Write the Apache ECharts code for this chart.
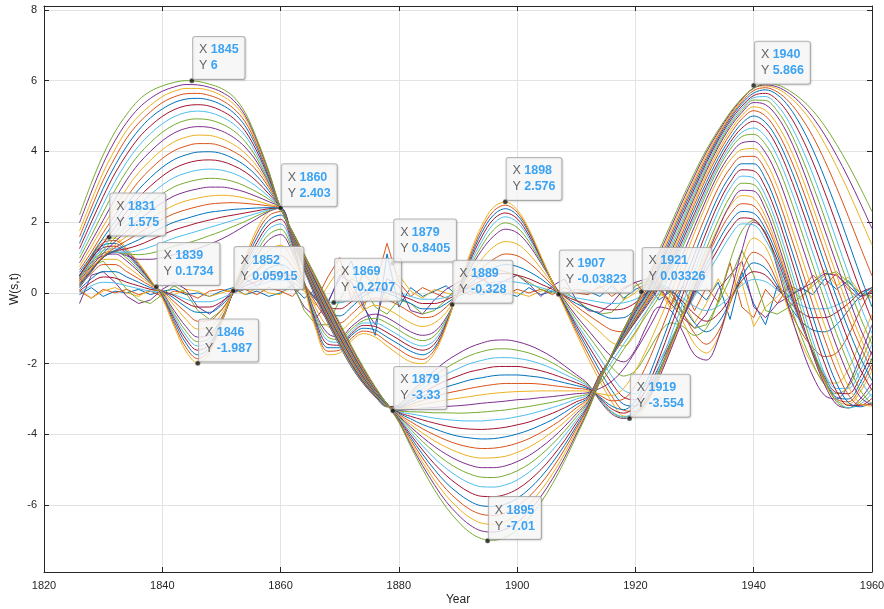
<!DOCTYPE html>
<html>
<head>
<meta charset="utf-8">
<title>W(s,t)</title>
<script src="https://cdn.jsdelivr.net/npm/echarts@6/dist/echarts.min.js"></script>
<style>
  html, body { margin: 0; padding: 0; background: #fff; }
  #chart { width: 884px; height: 609px; }
</style>
</head>
<body>
<div id="chart"></div>
<script>
// sampling years (every 2 years)
var years = [1826,1828,1830,1832,1834,1836,1838,1840,1842,1844,1846,1848,1850,1852,1854,1856,1858,1860,
  1862,1864,1866,1868,1870,1872,1874,1876,1878,1880,
  1882,1884,1886,1888,1890,1892,1894,1896,1898,1900,1902,1904,1906,1908,1910,1912,
  1914,1916,1918,1920,1922,1924,1926,1928,1930,1932,1934,1936,1938,1940,1942,1944,1946,1948,1950,1952,1954,1956,1958,1960];

// small scales
var s1 = [-0.05, 0.15, -0.1, 0.05, 0.0, 0.1, -0.05, 0.05, 0.1, -0.05, 0.0, -0.1, 0.05, 0.15, -0.05, 0.05, -0.1, 0.0,
  0.2, -0.15, 0.1, -0.25, 0.4, 0.9, -0.3, -1.2, 1.1, -0.4,
  0.15, -0.1, 0.05, 0.2, -0.1, 0.05, -0.05, 0.1, 0.0, -0.1, 0.15, -0.05, 0.05, 0.0, 0.1, 0.05,
  -0.1, 0.2, -0.15, 0.1, 0.25, -0.2, 0.05, -0.6, 0.1, -0.2, 0.3, -0.75, 0.6, -0.3, -0.9, 0.2, -0.1, 0.15, -0.05, 0.4, 0.1, 0.35, -0.1, 0.05];
var s2 = [0.05, -0.15, 0.1, 0.0, 0.1, -0.05, 0.05, -0.1, 0.05, 0.0, -0.15, 0.05, 0.1, 0.0, 0.1, -0.05, 0.15, 0.05,
  -0.1, 0.25, -0.2, 0.45, 1.0, -0.2, 0.55, 0.2, 1.4, 0.3,
  -0.1, 0.15, 0.0, -0.15, 0.1, -0.05, 0.1, 0.05, -0.05, 0.1, 0.0, 0.1, -0.05, 0.15, 0.0, -0.05,
  0.2, -0.1, 0.15, 0.3, -0.1, 0.15, -0.35, 0.2, -0.5, 0.15, -0.25, 0.85, -0.4, -0.7, 0.1, -0.3, 0.2, 0.05, 0.5, 0.2, 0.55, 0.1, -0.2, 0.1];
var s3 = [0.1, -0.15, 0.05, 0.15, 0.0, -0.1, 0.1, 0.0, -0.05, 0.1, 0.05, -0.1, 0.0, 0.1, -0.05, 0.15, 0.0, -0.05,
  0.3, 0.05, -0.35, 0.2, 0.7, 0.1, -0.5, 0.6, -0.2, 0.5,
  0.05, -0.15, 0.1, 0.0, -0.1, 0.15, 0.05, -0.05, 0.1, 0.0, -0.1, 0.05, 0.15, -0.05, 0.1, 0.0,
  0.15, 0.3, -0.2, 0.0, 0.35, 0.1, -0.45, -0.2, -0.85, -0.3, 0.4, -0.2, 0.3, -0.95, -0.4, -0.1, 0.25, -0.2, 0.3, 0.65, 0.2, 0.45, 0.0, -0.15];
var s4 = [-0.3, 0.5, 0.6, 0.3, -0.1, -0.3, -0.2, 0.1, 0.3, 0.1, -0.4, -0.6, -0.3, 0.1, 0.4, 0.2, 0.5, 0.6,
  0.2, -0.4, -0.7, -0.3, 0.5, 0.3, -0.4, -0.9, 0.4, 0.2,
  -0.5, -0.6, -0.2, 0.1, 0.3, 0.5, 0.4, 0.2, 0.35, 0.5, 0.25, -0.1, 0.2, 0.4, -0.2, -0.5,
  -0.55, -0.3, 0.1, 0.3, 0.4, 0.2, -0.3, -0.7, -1.0, -0.6, 0.1, 0.5, 0.9, -0.4, -0.7, -0.3, -0.1, 0.1, 0.3, 0.55, 0.5, 0.2, -0.1, 0.0];
var s5 = [0.5, 0.75, 0.9, 0.5, 0.1, -0.2, -0.3, -0.05, 0.2, 0.0, -0.5, -0.75, -0.5, 0.0, 0.4, 0.6, 0.9, 0.8,
  0.3, -0.5, -0.9, -0.9, -0.2, 0.4, 0.2, -0.4, -0.6, -0.2,
  -0.3, -0.6, -0.5, -0.2, 0.2, 0.5, 0.65, 0.7, 0.6, 0.5, 0.3, 0.1, 0.0, 0.05, -0.2, -0.45,
  -0.6, -0.55, -0.2, 0.2, 0.35, 0.3, -0.1, -0.6, -1.0, -0.9, -0.3, 0.4, 1.2, 0.5, -0.5, -0.6, -0.4, -0.1, 0.2, 0.5, 0.6, 0.3, 0.0, -0.1];

// medium scales
var m1 = [0.0, 0.2, 0.3, 0.28, 0.2, 0.12, 0.05, 0.02, -0.05, -0.18, -0.25, -0.25, -0.15, 0.0, 0.12, 0.2, 0.32, 0.35,
  0.3, 0.1, -0.1, -0.25, -0.28, -0.15, 0.02, 0.1, 0.06, -0.02,
  -0.1, -0.18, -0.18, -0.12, 0.0, 0.12, 0.22, 0.3, 0.33, 0.3, 0.24, 0.15, 0.05, -0.05, -0.14, -0.2,
  -0.26, -0.3, -0.28, -0.18, 0.0, 0.1, 0.03, -0.15, -0.38, -0.5, -0.38, -0.1, 0.22, 0.38, 0.32, 0.08, -0.15, -0.35, -0.45, -0.45, -0.35, -0.18, 0.0, 0.1];
var m2 = [0.05, 0.3, 0.45, 0.42, 0.3, 0.2, 0.1, 0.05, -0.08, -0.28, -0.4, -0.4, -0.25, 0.0, 0.2, 0.32, 0.5, 0.55,
  0.45, 0.15, -0.15, -0.4, -0.45, -0.25, 0.0, 0.12, 0.08, -0.05,
  -0.18, -0.3, -0.3, -0.2, -0.02, 0.18, 0.35, 0.5, 0.55, 0.5, 0.4, 0.25, 0.1, -0.08, -0.22, -0.32,
  -0.42, -0.48, -0.45, -0.28, 0.0, 0.15, 0.05, -0.25, -0.6, -0.8, -0.6, -0.15, 0.35, 0.6, 0.5, 0.12, -0.25, -0.55, -0.7, -0.7, -0.55, -0.3, 0.0, 0.15];
var m3 = [0.1, 0.4, 0.6, 0.6, 0.45, 0.3, 0.15, 0.05, -0.15, -0.4, -0.55, -0.55, -0.35, 0.0, 0.28, 0.45, 0.7, 0.8,
  0.6, 0.2, -0.2, -0.55, -0.65, -0.4, -0.1, 0.05, 0.0, -0.15,
  -0.3, -0.45, -0.45, -0.3, -0.05, 0.25, 0.5, 0.7, 0.8, 0.75, 0.6, 0.4, 0.15, -0.1, -0.3, -0.45,
  -0.6, -0.72, -0.7, -0.45, -0.05, 0.2, 0.1, -0.35, -0.85, -1.1, -0.85, -0.25, 0.45, 0.85, 0.7, 0.2, -0.35, -0.8, -1.05, -1.1, -0.9, -0.5, -0.1, 0.15];
var m4 = [0.2, 0.55, 0.8, 0.8, 0.6, 0.4, 0.2, 0.05, -0.25, -0.55, -0.8, -0.78, -0.48, -0.02, 0.38, 0.65, 0.95, 1.05,
  0.75, 0.25, -0.3, -0.75, -0.85, -0.6, -0.3, -0.15, -0.2, -0.35,
  -0.55, -0.7, -0.65, -0.4, -0.05, 0.35, 0.7, 0.95, 1.1, 1.05, 0.85, 0.55, 0.2, -0.1, -0.38, -0.62,
  -0.85, -1.05, -1.1, -0.75, -0.2, 0.15, 0.0, -0.55, -1.15, -1.45, -1.1, -0.3, 0.6, 1.15, 0.95, 0.3, -0.45, -1.1, -1.55, -1.8, -1.7, -1.2, -0.5, 0.1];
var m5 = [0.3, 0.7, 0.95, 0.95, 0.75, 0.5, 0.25, 0.02, -0.35, -0.75, -1.02, -0.98, -0.6, 0.0, 0.48, 0.85, 1.2, 1.35,
  0.95, 0.3, -0.45, -0.95, -1.05, -0.8, -0.5, -0.35, -0.45, -0.65,
  -0.85, -0.95, -0.85, -0.55, -0.05, 0.5, 0.95, 1.3, 1.45, 1.38, 1.1, 0.7, 0.25, -0.15, -0.5, -0.8,
  -1.1, -1.4, -1.5, -1.15, -0.5, -0.05, -0.2, -0.8, -1.45, -1.7, -1.25, -0.25, 0.9, 1.55, 1.3, 0.45, -0.55, -1.4, -2.05, -2.5, -2.55, -2.15, -1.4, -0.6];
var m6 = [0.4, 0.85, 1.05, 1.1, 0.9, 0.6, 0.28, 0.0, -0.5, -0.95, -1.25, -1.18, -0.72, 0.0, 0.6, 1.05, 1.5, 1.65,
  1.15, 0.3, -0.6, -1.15, -1.25, -0.95, -0.7, -0.6, -0.7, -0.9,
  -1.1, -1.2, -1.1, -0.7, -0.05, 0.65, 1.2, 1.6, 1.8, 1.7, 1.35, 0.85, 0.3, -0.2, -0.65, -1.05,
  -1.45, -1.8, -1.95, -1.6, -0.9, -0.4, -0.5, -1.1, -1.75, -1.9, -1.3, -0.1, 1.2, 2.0, 1.7, 0.7, -0.45, -1.5, -2.35, -2.9, -3.0, -2.6, -1.8, -0.9];
var m6b = [0.45, 0.9, 1.12, 1.18, 0.98, 0.65, 0.3, -0.02, -0.58, -1.08, -1.38, -1.28, -0.76, 0.01, 0.66, 1.18, 1.65, 1.8,
  1.22, 0.28, -0.68, -1.25, -1.32, -1.02, -0.78, -0.72, -0.85, -1.05,
  -1.25, -1.35, -1.22, -0.75, -0.02, 0.72, 1.32, 1.78, 1.98, 1.85, 1.45, 0.9, 0.3, -0.25, -0.75, -1.2,
  -1.65, -2.1, -2.35, -2.2, -1.7, -1.15, -0.85, -0.95, -1.2, -1.0, -0.2, 0.9, 1.75, 2.05, 1.65, 0.8, -0.25, -1.2, -2.0, -2.6, -2.85, -2.65, -2.0, -1.2];
var m7 = [0.5, 0.95, 1.2, 1.25, 1.05, 0.7, 0.32, -0.05, -0.65, -1.2, -1.5, -1.38, -0.8, 0.02, 0.72, 1.3, 1.8, 1.95,
  1.3, 0.25, -0.75, -1.35, -1.4, -1.1, -0.85, -0.85, -1.0, -1.2,
  -1.4, -1.5, -1.35, -0.8, 0.0, 0.8, 1.45, 1.95, 2.15, 2.0, 1.55, 0.95, 0.3, -0.3, -0.85, -1.35,
  -1.85, -2.35, -2.75, -2.85, -2.55, -1.95, -1.3, -0.7, -0.1, 0.5, 1.05, 1.6, 1.95, 1.92, 1.5, 0.8, -0.05, -0.9, -1.65, -2.3, -2.7, -2.7, -2.2, -1.45];
var m7b = [0.48, 0.98, 1.28, 1.32, 1.1, 0.74, 0.34, -0.08, -0.72, -1.31, -1.62, -1.46, -0.82, 0.04, 0.78, 1.42, 1.92, 2.08,
  1.38, 0.25, -0.82, -1.45, -1.48, -1.15, -0.92, -0.95, -1.12, -1.32,
  -1.52, -1.62, -1.45, -0.85, 0.02, 0.88, 1.58, 2.08, 2.26, 2.1, 1.62, 0.98, 0.3, -0.32, -0.92, -1.48,
  -2.02, -2.55, -2.95, -3.02, -2.7, -2.08, -1.38, -0.7, -0.02, 0.65, 1.25, 1.8, 2.12, 2.08, 1.65, 0.92, 0.05, -0.85, -1.68, -2.38, -2.82, -2.85, -2.38, -1.65];
var m8 = [0.45, 1.0, 1.35, 1.4, 1.15, 0.78, 0.35, -0.1, -0.8, -1.42, -1.75, -1.55, -0.85, 0.05, 0.85, 1.55, 2.05, 2.2,
  1.45, 0.25, -0.9, -1.55, -1.55, -1.2, -1.0, -1.05, -1.25, -1.45,
  -1.65, -1.75, -1.55, -0.9, 0.05, 0.95, 1.7, 2.2, 2.38, 2.2, 1.7, 1.0, 0.3, -0.35, -1.0, -1.6,
  -2.2, -2.75, -3.15, -3.2, -2.85, -2.2, -1.45, -0.7, 0.05, 0.8, 1.45, 2.0, 2.3, 2.25, 1.8, 1.05, 0.15, -0.8, -1.7, -2.45, -2.95, -3.0, -2.55, -1.85];
var m8b = [0.4, 1.02, 1.42, 1.48, 1.2, 0.82, 0.36, -0.12, -0.88, -1.54, -1.86, -1.62, -0.85, 0.08, 0.92, 1.68, 2.18, 2.3,
  1.5, 0.22, -0.98, -1.65, -1.62, -1.28, -1.08, -1.15, -1.38, -1.6,
  -1.8, -1.88, -1.62, -0.92, 0.08, 1.02, 1.8, 2.31, 2.48, 2.28, 1.75, 1.02, 0.3, -0.38, -1.08, -1.72,
  -2.35, -2.92, -3.32, -3.35, -2.98, -2.3, -1.5, -0.68, 0.15, 0.95, 1.65, 2.22, 2.52, 2.46, 1.98, 1.18, 0.22, -0.78, -1.72, -2.5, -3.0, -3.08, -2.68, -2.02];
var m9 = [0.35, 1.05, 1.5, 1.55, 1.25, 0.85, 0.38, -0.15, -0.95, -1.65, -1.98, -1.7, -0.85, 0.1, 1.0, 1.8, 2.3, 2.4,
  1.55, 0.2, -1.05, -1.75, -1.7, -1.35, -1.15, -1.25, -1.5, -1.75,
  -1.95, -2.0, -1.7, -0.95, 0.1, 1.1, 1.9, 2.42, 2.57, 2.35, 1.8, 1.05, 0.3, -0.42, -1.15, -1.85,
  -2.5, -3.08, -3.48, -3.5, -3.1, -2.4, -1.55, -0.65, 0.25, 1.1, 1.85, 2.45, 2.75, 2.68, 2.15, 1.3, 0.3, -0.75, -1.75, -2.55, -3.05, -3.15, -2.8, -2.2];

// large scales
var l1 = [0.15, 0.6, 1.05, 1.15, 1.05, 0.95, 0.95, 1.0, 1.08, 1.15, 1.25, 1.38, 1.52, 1.7, 1.9, 2.1, 2.3, 2.4,
  1.52, 0.64, -0.15, -0.85, -1.5, -2.1, -2.57, -2.94, -3.22, -3.16,
  -2.82, -2.49, -2.2, -1.93, -1.72, -1.54, -1.42, -1.34, -1.33, -1.38, -1.48, -1.63, -1.82, -2.06, -2.31, -2.58,
  -3.05, -3.42, -3.55, -3.45, -3.05, -2.4, -1.6, -0.75, 0.15, 1.0, 1.8, 2.5, 2.9, 2.88, 2.35, 1.45, 0.4, -0.7, -1.75, -2.6, -3.15, -3.25, -3.0, -2.55];
var l1b = [0.18, 0.6, 1.02, 1.15, 1.1, 1.08, 1.12, 1.21, 1.32, 1.4, 1.5, 1.62, 1.74, 1.88, 2.02, 2.18, 2.32, 2.4,
  1.53, 0.66, -0.12, -0.82, -1.48, -2.08, -2.55, -2.93, -3.22, -3.18,
  -2.88, -2.6, -2.34, -2.12, -1.93, -1.77, -1.66, -1.59, -1.58, -1.62, -1.7, -1.82, -1.98, -2.18, -2.38, -2.61,
  -3.02, -3.38, -3.52, -3.4, -2.95, -2.25, -1.4, -0.52, 0.38, 1.25, 2.05, 2.72, 3.1, 3.06, 2.55, 1.68, 0.62, -0.48, -1.55, -2.45, -3.08, -3.25, -3.08, -2.7];
var l2 = [0.2, 0.6, 1.0, 1.15, 1.15, 1.2, 1.3, 1.42, 1.55, 1.65, 1.75, 1.85, 1.95, 2.05, 2.15, 2.25, 2.35, 2.4,
  1.54, 0.68, -0.1, -0.8, -1.45, -2.05, -2.53, -2.92, -3.21, -3.2,
  -2.95, -2.71, -2.49, -2.3, -2.14, -2.0, -1.91, -1.84, -1.83, -1.85, -1.91, -2.01, -2.14, -2.3, -2.46, -2.64,
  -3.0, -3.35, -3.5, -3.35, -2.85, -2.1, -1.2, -0.3, 0.6, 1.5, 2.3, 2.95, 3.3, 3.25, 2.75, 1.9, 0.85, -0.25, -1.35, -2.3, -3.0, -3.25, -3.15, -2.85];
var l2b = [0.22, 0.62, 1.0, 1.18, 1.25, 1.35, 1.49, 1.64, 1.78, 1.88, 1.98, 2.06, 2.14, 2.2, 2.26, 2.32, 2.38, 2.4,
  1.55, 0.7, -0.08, -0.78, -1.42, -2.02, -2.52, -2.91, -3.2, -3.22,
  -3.02, -2.82, -2.64, -2.48, -2.35, -2.23, -2.16, -2.09, -2.08, -2.08, -2.13, -2.2, -2.3, -2.42, -2.54, -2.68,
  -2.98, -3.28, -3.4, -3.2, -2.65, -1.85, -0.95, -0.05, 0.85, 1.72, 2.51, 3.12, 3.48, 3.45, 2.98, 2.16, 1.14, 0.06, -1.02, -2.0, -2.78, -3.18, -3.18, -2.98];
var l3 = [0.25, 0.65, 1.0, 1.2, 1.35, 1.5, 1.68, 1.85, 2.0, 2.1, 2.2, 2.28, 2.32, 2.36, 2.38, 2.4, 2.41, 2.4,
  1.56, 0.72, -0.05, -0.75, -1.4, -2.0, -2.5, -2.9, -3.2, -3.25,
  -3.09, -2.93, -2.79, -2.66, -2.56, -2.46, -2.4, -2.34, -2.32, -2.32, -2.35, -2.39, -2.46, -2.54, -2.62, -2.71,
  -2.95, -3.2, -3.3, -3.05, -2.45, -1.6, -0.7, 0.2, 1.1, 1.95, 2.72, 3.3, 3.65, 3.65, 3.22, 2.42, 1.42, 0.38, -0.68, -1.7, -2.55, -3.1, -3.22, -3.1];
var l3b = [0.28, 0.68, 1.02, 1.28, 1.48, 1.68, 1.89, 2.08, 2.24, 2.35, 2.44, 2.51, 2.54, 2.55, 2.53, 2.5, 2.46, 2.4,
  1.57, 0.74, -0.02, -0.72, -1.38, -1.98, -2.48, -2.89, -3.2, -3.27,
  -3.16, -3.04, -2.94, -2.84, -2.77, -2.7, -2.64, -2.59, -2.56, -2.56, -2.56, -2.58, -2.62, -2.66, -2.7, -2.74,
  -2.9, -3.05, -3.0, -2.62, -2.0, -1.2, -0.35, 0.52, 1.4, 2.22, 2.97, 3.52, 3.85, 3.86, 3.47, 2.71, 1.74, 0.72, -0.32, -1.31, -2.2, -2.88, -3.17, -3.15];
var l4 = [0.3, 0.7, 1.05, 1.35, 1.6, 1.85, 2.1, 2.3, 2.48, 2.6, 2.68, 2.74, 2.76, 2.74, 2.68, 2.6, 2.5, 2.4,
  1.58, 0.76, 0.0, -0.7, -1.35, -1.95, -2.46, -2.88, -3.19, -3.29,
  -3.22, -3.15, -3.09, -3.03, -2.98, -2.93, -2.88, -2.84, -2.81, -2.79, -2.78, -2.77, -2.77, -2.77, -2.77, -2.78,
  -2.85, -2.9, -2.7, -2.2, -1.55, -0.8, 0.0, 0.85, 1.7, 2.5, 3.22, 3.75, 4.05, 4.08, 3.72, 3.0, 2.05, 1.05, 0.05, -0.92, -1.85, -2.65, -3.12, -3.2];
var l4b = [0.35, 0.75, 1.12, 1.45, 1.75, 2.05, 2.32, 2.55, 2.74, 2.86, 2.94, 2.99, 2.99, 2.94, 2.85, 2.72, 2.58, 2.4,
  1.59, 0.78, 0.02, -0.68, -1.32, -1.92, -2.44, -2.87, -3.18, -3.32,
  -3.29, -3.26, -3.24, -3.21, -3.19, -3.16, -3.12, -3.09, -3.06, -3.02, -3.0, -2.96, -2.93, -2.89, -2.85, -2.82,
  -2.7, -2.5, -2.15, -1.65, -1.08, -0.45, 0.29, 1.08, 1.88, 2.65, 3.36, 3.9, 4.24, 4.28, 3.96, 3.3, 2.4, 1.42, 0.42, -0.56, -1.5, -2.32, -2.94, -3.18];
var l5 = [0.4, 0.8, 1.2, 1.55, 1.9, 2.25, 2.55, 2.8, 3.0, 3.12, 3.2, 3.24, 3.22, 3.15, 3.02, 2.85, 2.65, 2.4,
  1.6, 0.8, 0.05, -0.65, -1.3, -1.9, -2.42, -2.86, -3.18, -3.34,
  -3.36, -3.37, -3.39, -3.39, -3.4, -3.39, -3.37, -3.34, -3.31, -3.26, -3.21, -3.15, -3.09, -3.01, -2.93, -2.85,
  -2.55, -2.1, -1.6, -1.1, -0.6, -0.1, 0.58, 1.3, 2.05, 2.8, 3.5, 4.05, 4.42, 4.48, 4.2, 3.6, 2.75, 1.78, 0.78, -0.2, -1.15, -2.0, -2.75, -3.15];
var l5b = [0.45, 0.88, 1.3, 1.7, 2.1, 2.48, 2.78, 3.05, 3.26, 3.39, 3.47, 3.5, 3.47, 3.38, 3.22, 3.0, 2.72, 2.4,
  1.61, 0.82, 0.08, -0.62, -1.28, -1.88, -2.4, -2.84, -3.17, -3.36,
  -3.42, -3.48, -3.54, -3.58, -3.61, -3.62, -3.62, -3.59, -3.56, -3.5, -3.43, -3.34, -3.24, -3.13, -3.0, -2.88,
  -2.42, -1.95, -1.45, -0.96, -0.48, 0.02, 0.68, 1.4, 2.15, 2.9, 3.59, 4.15, 4.54, 4.66, 4.42, 3.86, 3.05, 2.12, 1.13, 0.15, -0.8, -1.68, -2.45, -2.95];
var l6 = [0.5, 0.95, 1.4, 1.85, 2.3, 2.7, 3.02, 3.3, 3.52, 3.66, 3.74, 3.76, 3.72, 3.6, 3.42, 3.15, 2.8, 2.4,
  1.62, 0.84, 0.1, -0.6, -1.25, -1.85, -2.38, -2.83, -3.16, -3.38,
  -3.49, -3.59, -3.68, -3.76, -3.82, -3.85, -3.86, -3.84, -3.8, -3.73, -3.65, -3.53, -3.4, -3.25, -3.08, -2.92,
  -2.3, -1.8, -1.3, -0.82, -0.35, 0.15, 0.78, 1.5, 2.25, 3.0, 3.68, 4.25, 4.66, 4.85, 4.65, 4.12, 3.35, 2.45, 1.48, 0.5, -0.45, -1.35, -2.15, -2.75];
var l6b = [0.58, 1.05, 1.55, 2.02, 2.5, 2.92, 3.26, 3.55, 3.77, 3.9, 3.98, 3.99, 3.94, 3.8, 3.6, 3.3, 2.89, 2.4,
  1.63, 0.86, 0.12, -0.57, -1.22, -1.82, -2.36, -2.82, -3.16, -3.4,
  -3.56, -3.72, -3.84, -3.96, -4.05, -4.1, -4.13, -4.12, -4.07, -3.99, -3.88, -3.74, -3.58, -3.38, -3.16, -2.96,
  -2.32, -1.8, -1.28, -0.78, -0.3, 0.22, 0.88, 1.61, 2.38, 3.12, 3.8, 4.36, 4.79, 5.0, 4.82, 4.34, 3.62, 2.75, 1.8, 0.82, -0.12, -1.02, -1.82, -2.48];
var l7 = [0.65, 1.15, 1.7, 2.2, 2.7, 3.15, 3.5, 3.8, 4.02, 4.15, 4.22, 4.22, 4.15, 4.0, 3.78, 3.45, 2.98, 2.4,
  1.64, 0.88, 0.15, -0.54, -1.2, -1.8, -2.34, -2.8, -3.15, -3.43,
  -3.64, -3.84, -4.01, -4.16, -4.28, -4.36, -4.4, -4.39, -4.34, -4.25, -4.12, -3.95, -3.75, -3.52, -3.25, -2.99,
  -2.35, -1.8, -1.27, -0.75, -0.25, 0.3, 0.98, 1.72, 2.5, 3.25, 3.92, 4.48, 4.92, 5.15, 5.0, 4.55, 3.88, 3.05, 2.12, 1.15, 0.2, -0.7, -1.5, -2.2];
var l7b = [0.75, 1.3, 1.88, 2.42, 2.95, 3.4, 3.75, 4.05, 4.27, 4.4, 4.46, 4.45, 4.36, 4.2, 3.95, 3.58, 3.04, 2.4,
  1.65, 0.9, 0.18, -0.51, -1.17, -1.78, -2.32, -2.79, -3.14, -3.46,
  -3.72, -3.96, -4.18, -4.36, -4.51, -4.62, -4.67, -4.66, -4.62, -4.51, -4.36, -4.16, -3.92, -3.65, -3.34, -3.03,
  -2.36, -1.8, -1.26, -0.72, -0.2, 0.38, 1.06, 1.82, 2.6, 3.35, 4.02, 4.58, 5.01, 5.26, 5.16, 4.76, 4.14, 3.34, 2.42, 1.46, 0.51, -0.41, -1.25, -1.98];
var l8 = [0.85, 1.45, 2.05, 2.65, 3.2, 3.65, 4.0, 4.3, 4.52, 4.65, 4.7, 4.68, 4.58, 4.4, 4.12, 3.7, 3.1, 2.4,
  1.66, 0.92, 0.2, -0.48, -1.14, -1.75, -2.3, -2.78, -3.14, -3.48,
  -3.79, -4.08, -4.34, -4.56, -4.74, -4.87, -4.94, -4.94, -4.89, -4.77, -4.6, -4.37, -4.1, -3.78, -3.42, -3.07,
  -2.38, -1.8, -1.24, -0.68, -0.15, 0.45, 1.15, 1.92, 2.7, 3.45, 4.12, 4.68, 5.1, 5.38, 5.32, 4.98, 4.4, 3.62, 2.72, 1.78, 0.82, -0.12, -1.0, -1.75];
var l8b = [0.98, 1.62, 2.28, 2.9, 3.45, 3.9, 4.25, 4.54, 4.75, 4.88, 4.92, 4.89, 4.78, 4.59, 4.28, 3.8, 3.15, 2.4,
  1.67, 0.94, 0.23, -0.45, -1.11, -1.72, -2.28, -2.77, -3.14, -3.5,
  -3.86, -4.2, -4.5, -4.76, -4.97, -5.12, -5.21, -5.22, -5.16, -5.03, -4.84, -4.58, -4.27, -3.91, -3.51, -3.1,
  -2.4, -1.8, -1.22, -0.64, -0.1, 0.52, 1.25, 2.02, 2.79, 3.52, 4.18, 4.74, 5.16, 5.45, 5.44, 5.14, 4.61, 3.88, 3.04, 2.12, 1.16, 0.22, -0.68, -1.45];
var l9 = [1.1, 1.8, 2.5, 3.15, 3.7, 4.15, 4.5, 4.78, 4.98, 5.1, 5.14, 5.1, 4.98, 4.78, 4.45, 3.9, 3.2, 2.4,
  1.68, 0.96, 0.26, -0.42, -1.08, -1.7, -2.26, -2.76, -3.13, -3.53,
  -3.94, -4.32, -4.67, -4.96, -5.2, -5.38, -5.48, -5.49, -5.43, -5.29, -5.07, -4.79, -4.44, -4.04, -3.6, -3.14,
  -2.42, -1.8, -1.2, -0.6, -0.05, 0.6, 1.35, 2.12, 2.88, 3.6, 4.25, 4.8, 5.22, 5.52, 5.55, 5.3, 4.82, 4.15, 3.35, 2.45, 1.5, 0.55, -0.35, -1.15];
var l9b = [1.25, 2.0, 2.72, 3.38, 3.92, 4.38, 4.72, 4.99, 5.18, 5.29, 5.32, 5.28, 5.15, 4.94, 4.58, 4.0, 3.25, 2.4,
  1.69, 0.98, 0.29, -0.39, -1.05, -1.67, -2.24, -2.74, -3.13, -3.56,
  -4.01, -4.44, -4.83, -5.16, -5.43, -5.64, -5.75, -5.76, -5.7, -5.55, -5.31, -5.0, -4.62, -4.18, -3.68, -3.18,
  -2.44, -1.79, -1.16, -0.55, 0.0, 0.69, 1.45, 2.22, 2.96, 3.68, 4.32, 4.86, 5.28, 5.58, 5.64, 5.45, 5.04, 4.44, 3.7, 2.85, 1.94, 1.0, 0.08, -0.78];
var l10 = [1.4, 2.2, 2.95, 3.6, 4.15, 4.6, 4.95, 5.2, 5.38, 5.48, 5.5, 5.45, 5.32, 5.1, 4.72, 4.1, 3.3, 2.4,
  1.7, 1.0, 0.32, -0.36, -1.02, -1.64, -2.22, -2.73, -3.13, -3.58,
  -4.08, -4.56, -4.99, -5.37, -5.66, -5.89, -6.02, -6.04, -5.97, -5.81, -5.55, -5.21, -4.79, -4.31, -3.77, -3.22,
  -2.45, -1.78, -1.12, -0.5, 0.05, 0.78, 1.55, 2.32, 3.05, 3.75, 4.38, 4.92, 5.35, 5.65, 5.74, 5.6, 5.25, 4.72, 4.05, 3.25, 2.38, 1.45, 0.5, -0.4];
var l10b = [1.58, 2.4, 3.18, 3.82, 4.38, 4.8, 5.12, 5.38, 5.54, 5.63, 5.64, 5.58, 5.45, 5.22, 4.84, 4.18, 3.35, 2.4,
  1.71, 1.02, 0.35, -0.33, -0.98, -1.61, -2.2, -2.72, -3.13, -3.6,
  -4.15, -4.67, -5.14, -5.55, -5.87, -6.12, -6.26, -6.29, -6.22, -6.04, -5.76, -5.4, -4.95, -4.43, -3.84, -3.25,
  -2.45, -1.75, -1.07, -0.45, 0.14, 0.88, 1.65, 2.41, 3.14, 3.82, 4.44, 4.97, 5.4, 5.72, 5.8, 5.68, 5.4, 4.97, 4.42, 3.74, 2.98, 2.16, 1.31, 0.48];
var l11 = [1.75, 2.6, 3.4, 4.05, 4.6, 5.0, 5.3, 5.55, 5.7, 5.78, 5.78, 5.72, 5.58, 5.35, 4.95, 4.25, 3.4, 2.4,
  1.72, 1.05, 0.38, -0.3, -0.95, -1.58, -2.17, -2.7, -3.13, -3.62,
  -4.22, -4.78, -5.29, -5.73, -6.08, -6.35, -6.51, -6.54, -6.46, -6.28, -5.98, -5.59, -5.11, -4.55, -3.92, -3.28,
  -2.45, -1.72, -1.02, -0.4, 0.22, 0.98, 1.75, 2.5, 3.22, 3.9, 4.5, 5.02, 5.45, 5.8, 5.85, 5.77, 5.55, 5.22, 4.78, 4.22, 3.58, 2.88, 2.12, 1.35];
var l11b = [1.98, 2.85, 3.65, 4.3, 4.82, 5.22, 5.5, 5.7, 5.82, 5.89, 5.88, 5.81, 5.68, 5.45, 5.02, 4.3, 3.42, 2.4,
  1.74, 1.08, 0.42, -0.25, -0.9, -1.54, -2.14, -2.68, -3.14, -3.64,
  -4.28, -4.88, -5.42, -5.9, -6.27, -6.56, -6.73, -6.76, -6.68, -6.49, -6.18, -5.76, -5.25, -4.66, -3.99, -3.31,
  -2.48, -1.74, -1.04, -0.38, 0.31, 1.09, 1.85, 2.6, 3.31, 3.98, 4.55, 5.06, 5.48, 5.79, 5.88, 5.82, 5.64, 5.35, 4.96, 4.47, 3.89, 3.25, 2.55, 1.82];
var l12 = [2.2, 3.1, 3.9, 4.55, 5.05, 5.45, 5.7, 5.85, 5.95, 6.0, 5.98, 5.9, 5.78, 5.55, 5.1, 4.35, 3.45, 2.4,
  1.75, 1.1, 0.45, -0.2, -0.85, -1.5, -2.1, -2.65, -3.15, -3.66,
  -4.34, -4.98, -5.56, -6.06, -6.46, -6.77, -6.95, -6.99, -6.91, -6.7, -6.37, -5.93, -5.39, -4.76, -4.06, -3.34,
  -2.5, -1.75, -1.05, -0.35, 0.4, 1.2, 1.95, 2.7, 3.4, 4.05, 4.6, 5.1, 5.5, 5.78, 5.92, 5.88, 5.72, 5.48, 5.15, 4.72, 4.2, 3.62, 2.98, 2.3];

// data tips
var tipYear  = [1831, 1839, 1845, 1846, 1852, 1860, 1869, 1879, 1879, 1889, 1895, 1898, 1907, 1919, 1921, 1940];
var tipValue = [1.575, 0.1734, 6, -1.987, 0.05915, 2.403, -0.2707, 0.8405, -3.33, -0.328, -7.01, 2.576, -0.03823, -3.554, 0.03326, 5.866];

var yTicks = [-6, -4, -2, 0, 2, 4, 6, 8];
var colorOrder = ['#0072BD', '#D95319', '#EDB120', '#7E2F8E', '#77AC30', '#4DBEEE', '#A2142F'];

var lines = [s1, s2, s3, s4, s5,
  m1, m2, m3, m4, m5, m6, m6b, m7, m7b, m8, m8b, m9,
  l1, l1b, l2, l2b, l3, l3b, l4, l4b, l5, l5b, l6, l6b, l7, l7b, l8, l8b, l9, l9b, l10, l10b, l11, l11b, l12];

var chart = echarts.init(document.getElementById('chart'));

var axisColor = '#262626';
var font = "'Liberation Sans', Arial, sans-serif";

var series = lines.map(function (vals, k) {
  return {
    type: 'line',
    data: vals.map(function (v, i) { return [years[i], v]; }),
    symbol: 'none',
    smooth: k < 5 ? false : 0.35,
    silent: true,
    lineStyle: { width: 1, color: colorOrder[k % 7] },
    itemStyle: { color: colorOrder[k % 7] },
    z: 2
  };
});

// data tip markers with their label boxes
series.push({
  type: 'scatter',
  data: tipYear.map(function (x, i) { return [x, tipValue[i]]; }),
  symbolSize: 5,
  itemStyle: { color: '#111', borderColor: '#ddd', borderWidth: 0.5 },
  z: 10,
  silent: true,
  label: {
    show: true,
    position: [4, -41],
    formatter: function (p) {
      return '{k|X} {v|' + p.value[0] + '}\n{k|Y} {v|' + String(p.value[1]) + '}';
    },
    backgroundColor: '#fbfbfd',
    borderColor: '#a6a6a6',
    borderWidth: 1,
    borderRadius: 2,
    padding: [5, 6, 5, 6],
    shadowColor: 'rgba(0,0,0,0.12)',
    shadowBlur: 2,
    shadowOffsetX: 1,
    shadowOffsetY: 1,
    rich: {
      k: { color: '#404040', fontSize: 12.5, fontFamily: font, lineHeight: 16 },
      v: { color: '#0b8df2', fontSize: 12.5, fontWeight: 'bold', fontFamily: font, lineHeight: 16 }
    }
  }
});

var option = {
  animation: false,
  backgroundColor: '#ffffff',
  grid: { left: 44, right: 12, top: 6, bottom: 37, outerBoundsMode: 'none', containLabel: false },
  xAxis: [
    {
      type: 'value', min: 1820, max: 1960, interval: 20, position: 'bottom',
      name: 'Year', nameLocation: 'middle', nameGap: 22, nameMoveOverlap: false,
      nameTextStyle: { color: axisColor, fontSize: 12, fontFamily: font },
      axisLine: { show: true, onZero: false, lineStyle: { color: axisColor, width: 1 } },
      axisTick: { show: true, inside: true, length: 5, lineStyle: { color: axisColor } },
      axisLabel: { color: axisColor, fontSize: 11, fontFamily: font, margin: 8,
        formatter: function (v) { return String(v); } },
      splitLine: { show: true, lineStyle: { color: '#e3e3e3', width: 1 } }
    },
    {
      type: 'value', min: 1820, max: 1960, interval: 20, position: 'top',
      axisLine: { show: true, onZero: false, lineStyle: { color: axisColor, width: 1 } },
      axisTick: { show: true, inside: true, length: 5, lineStyle: { color: axisColor } },
      axisLabel: { show: false },
      splitLine: { show: false }
    }
  ],
  yAxis: [
    {
      type: 'value', min: -7.89, max: 8.11, position: 'left',
      name: 'W(s,t)', nameLocation: 'middle', nameGap: 23, nameRotate: 90, nameMoveOverlap: false,
      nameTextStyle: { color: axisColor, fontSize: 12, fontFamily: font },
      axisLine: { show: true, onZero: false, lineStyle: { color: axisColor, width: 1 } },
      axisTick: { show: true, inside: true, length: 5, customValues: yTicks, lineStyle: { color: axisColor } },
      axisLabel: { color: axisColor, fontSize: 11, fontFamily: font, margin: 7, customValues: yTicks },
      splitLine: { show: true, lineStyle: { color: '#e3e3e3', width: 1 } }
    },
    {
      type: 'value', min: -7.89, max: 8.11, position: 'right',
      axisLine: { show: true, onZero: false, lineStyle: { color: axisColor, width: 1 } },
      axisTick: { show: true, inside: true, length: 5, customValues: yTicks, lineStyle: { color: axisColor } },
      axisLabel: { show: false },
      splitLine: { show: false }
    }
  ],
  series: series
};

chart.setOption(option);
</script>
</body>
</html>
